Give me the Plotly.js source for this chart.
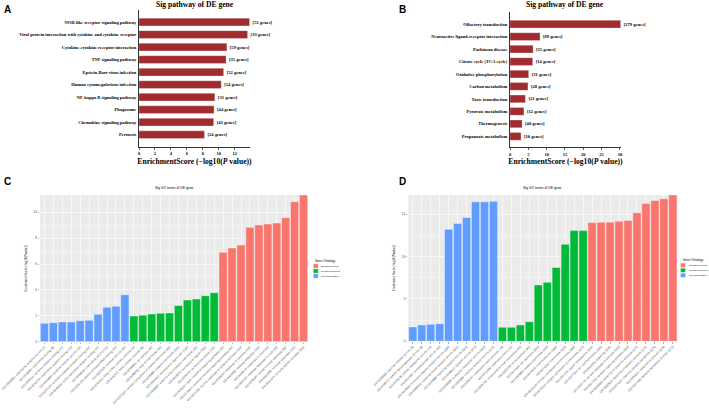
<!DOCTYPE html>
<html>
<head>
<meta charset="utf-8">
<script src="https://cdn.plot.ly/plotly-3.0.1.min.js"></script>
<style>html,body{margin:0;padding:0;background:#fff;}#chart{width:709px;height:412px;}</style>
</head>
<body>
<div id="chart"></div>
<script>
// ---------- Panel A: KEGG pathways ----------
const pathA = ["NOD-like receptor signaling pathway","Viral protein interaction with cytokine and cytokine receptor","Cytokine-cytokine receptor interaction","TNF signaling pathway","Epstein-Barr virus infection","Human cytomegalovirus infection","NF-kappa B signaling pathway","Phagosome","Chemokine signaling pathway","Pertussis"];
const scoreA = [13.85,13.6,11.0,10.9,10.6,10.3,9.5,9.4,9.35,8.2];
const genesA = [51,33,59,35,52,54,31,44,43,24];
const ticksA = [0,2,4,6,8,10,12];

// ---------- Panel B: KEGG pathways ----------
const pathB = ["Olfactory transduction","Neuroactive ligand-receptor interaction","Parkinson disease","Citrate cycle (TCA cycle)","Oxidative phosphorylation","Carbon metabolism","Taste transduction","Pyruvate metabolism","Thermogenesis","Propanoate metabolism"];
const scoreB = [30.2,8.2,6.3,6.2,5.1,4.9,4.2,3.8,3.3,3.0];
const genesB = [279,69,35,14,31,28,21,12,40,10];
const ticksB = [0,5,10,15,20,25,30];

// ---------- Panel C: GO terms ----------
const ontologies = ["Biological process","Cellular component","Molecular function"];
const ontologyColors = ["#F8766D","#00BA38","#619CFF"];
const goC_MF = ["GO:0004950~chemokine receptor activity (7)","GO:0019956~chemokine binding (8)","GO:0005126~cytokine receptor binding (21)","GO:0042379~chemokine receptor binding (12)","GO:0004896~cytokine receptor activity (14)","GO:0001664~G protein-coupled receptor binding (22)","GO:0048020~CCR chemokine receptor binding (11)","GO:0008009~chemokine activity (12)","GO:0003725~double-stranded RNA binding (16)","GO:0005125~cytokine activity (30)"];
const scoreC_MF = [1.42,1.47,1.52,1.52,1.62,1.65,2.12,2.66,2.73,3.63];
const goC_CC = ["GO:0042612~MHC class I protein complex (6)","GO:0042611~MHC protein complex (8)","GO:0009986~cell surface (45)","GO:0098552~side of membrane (40)","GO:0031226~intrinsic component of plasma membrane (90)","GO:0005886~plasma membrane (200)","GO:0044421~extracellular region part (120)","GO:0009897~external side of plasma membrane (30)","GO:0005576~extracellular region (150)","GO:0005615~extracellular space (110)"];
const scoreC_CC = [1.98,2.04,2.14,2.19,2.22,2.80,3.22,3.30,3.55,3.78];
const goC_BP = ["GO:0060337~type I interferon signaling pathway (35)","GO:0019221~cytokine-mediated signaling pathway (90)","GO:0071345~cellular response to cytokine stimulus (100)","GO:0034097~response to cytokine (110)","GO:0006952~defense response (130)","GO:0009615~response to virus (60)","GO:0051607~defense response to virus (50)","GO:0045087~innate immune response (90)","GO:0006955~immune response (120)","GO:0002376~immune system process (150)"];
const scoreC_BP = [6.90,7.24,7.47,8.83,9.01,9.09,9.17,9.58,10.81,11.33];
const ticksC = [0,2,4,6,8,10];

// ---------- Panel D: GO terms ----------
const goD_MF = ["GO:0009055~electron transfer activity (9)","GO:0008137~NADH dehydrogenase activity (8)","GO:0015078~proton transporter activity (12)","GO:0016491~oxidoreductase activity (40)","GO:0004930~G protein-coupled receptor activity (290)","GO:0099600~transmembrane receptor activity (300)","GO:0004888~signaling receptor activity (300)","GO:0038023~receptor activity (310)","GO:0060089~molecular transducer activity (320)","GO:0004984~olfactory receptor activity (270)"];
const scoreD_MF = [1.70,1.93,2.00,2.08,13.2,13.9,14.6,16.45,16.45,16.5];
const goD_CC = ["GO:0005747~respiratory chain complex I (8)","GO:0070469~respiratory chain (12)","GO:0005743~mitochondrial inner membrane (40)","GO:0005739~mitochondrion (90)","GO:0071944~cell periphery (350)","GO:0005886~plasma membrane (340)","GO:0044425~membrane part (380)","GO:0016020~membrane (420)","GO:0031224~intrinsic component of membrane (380)","GO:0016021~integral component of membrane (370)"];
const scoreD_CC = [1.65,1.65,1.93,2.30,6.65,6.95,8.70,11.45,13.05,13.05];
const goD_BP = ["GO:0007165~signal transduction (330)","GO:0007154~cell communication (340)","GO:0023052~signaling (335)","GO:0051716~cellular response to stimulus (340)","GO:0007166~receptor signaling pathway (300)","GO:0009593~detection of chemical stimulus (270)","GO:0050906~detection of sensory stimulus (270)","GO:0007606~chemical sensory perception (275)","GO:0050911~detection of odorant (265)","GO:0007608~sensory perception of smell (270)"];
const scoreD_BP = [14.0,14.05,14.05,14.15,14.25,15.15,16.25,16.6,16.8,17.25];
const ticksD = [0,5,10,15];

// ---------- helpers ----------
const W = 709, H = 412;
const px = x => x / W;
const py = y => 1 - y / H;
const serif = "Liberation Serif, Times New Roman, serif";
const sans = "Liberation Sans, Arial, sans-serif";
const barRed = "#A02C2F";

const pathTrace = (x, y, genes, xa, ya) => ({
  type: "bar", orientation: "h", x: x, y: y, xaxis: xa, yaxis: ya,
  width: 0.62,
  marker: {color: barRed, line: {color: "#ffffff", width: 0.3}},
  text: genes.map(g => "[" + g + " genes]"),
  textposition: "outside", cliponaxis: false, constraintext: "none",
  textfont: {family: serif, size: 4.6, color: "#000", weight: "bold"},
  showlegend: false, hoverinfo: "skip"
});

const goTrace = (labels, vals, color, xa, ya, name) => ({
  type: "bar", x: labels, y: vals, xaxis: xa, yaxis: ya, name: name,
  width: 0.92, marker: {color: color, line: {color: "#ffffff", width: 0.4}},
  showlegend: false, hoverinfo: "skip"
});

const catC = goC_MF.concat(goC_CC, goC_BP);
const catD = goD_MF.concat(goD_CC, goD_BP);

const data = [
  pathTrace(scoreA, pathA, genesA, "x", "y"),
  pathTrace(scoreB, pathB, genesB, "x2", "y2"),
  goTrace(goC_BP, scoreC_BP, ontologyColors[0], "x3", "y3", ontologies[0]),
  goTrace(goC_CC, scoreC_CC, ontologyColors[1], "x3", "y3", ontologies[1]),
  goTrace(goC_MF, scoreC_MF, ontologyColors[2], "x3", "y3", ontologies[2]),
  goTrace(goD_BP, scoreD_BP, ontologyColors[0], "x4", "y4", ontologies[0]),
  goTrace(goD_CC, scoreD_CC, ontologyColors[1], "x4", "y4", ontologies[1]),
  goTrace(goD_MF, scoreD_MF, ontologyColors[2], "x4", "y4", ontologies[2])
];

const pathXAxis = (dom, range, tv, anchor) => ({
  domain: dom, range: range, anchor: anchor, showline: true, linecolor: "#000", linewidth: 0.8,
  ticks: "outside", ticklen: 2, tickwidth: 0.6, tickcolor: "#000", tickmode: "array", tickvals: tv,
  tickfont: {family: serif, size: 4.5, color: "#000", weight: "bold"},
  showgrid: false, zeroline: false,
  title: {text: "EnrichmentScore (−log10(<i>P</i> value))", standoff: 3,
          font: {family: serif, size: 7.6, color: "#000", weight: "bold"}}
});
const pathYAxis = (dom, range, anchor) => ({
  domain: dom, type: "category", range: range, anchor: anchor,
  showline: true, linecolor: "#000", linewidth: 0.8, ticks: "", ticklabelstandoff: 1,
  tickfont: {family: serif, size: 4.5, color: "#000", weight: "bold"},
  showgrid: false, zeroline: false
});
const goXAxis = (dom, cats, anchor) => ({
  domain: dom, anchor: anchor, type: "category", categoryorder: "array", categoryarray: cats,
  range: [-0.5, cats.length - 0.5], tickmode: "array", tickvals: cats, ticktext: cats,
  tickangle: -45, tickfont: {family: sans, size: 3, color: "#4D4D4D"},
  ticks: "outside", ticklen: 1.5, tickwidth: 0.4, tickcolor: "#333",
  showgrid: true, gridcolor: "#ffffff", gridwidth: 0.6, showline: false, zeroline: false
});
const goYAxis = (dom, range, tv, anchor) => ({
  domain: dom, anchor: anchor, range: range, tickmode: "array", tickvals: tv,
  ticks: "outside", ticklen: 1.5, tickwidth: 0.4, tickcolor: "#333",
  tickfont: {family: sans, size: 3, color: "#4D4D4D"},
  showgrid: true, gridcolor: "#ffffff", gridwidth: 0.6, zeroline: false, showline: false,
  minor: {tickmode: "linear", tick0: tv[1] / 2, dtick: tv[1], showgrid: true, gridcolor: "#ffffff", gridwidth: 0.3, ticks: ""},
  title: {text: "Enrichment Score (-log10(Pvalue))", standoff: 6, font: {family: sans, size: 3, color: "#222"}}
});

const shapes = [
  {type: "rect", xref: "x3 domain", yref: "y3 domain", x0: 0, x1: 1, y0: 0, y1: 1, fillcolor: "#EBEBEB", line: {width: 0}, layer: "below"},
  {type: "rect", xref: "x4 domain", yref: "y4 domain", x0: 0, x1: 1, y0: 0, y1: 1, fillcolor: "#EBEBEB", line: {width: 0}, layer: "below"}
];
const annotations = [];
const letter = (t, x, y) => annotations.push({text: t, xref: "paper", yref: "paper", x: px(x), y: py(y), xanchor: "center", yanchor: "middle", showarrow: false, font: {family: sans, size: 10, color: "#000", weight: "bold"}});
letter("A", 7.5, 9.5); letter("B", 402, 9.5); letter("C", 7.5, 181); letter("D", 402, 181);
const title = (t, x, y, size, f, bold) => annotations.push({text: t, xref: "paper", yref: "paper", x: px(x), y: py(y), xanchor: "center", yanchor: "middle", showarrow: false, font: {family: f, size: size, color: "#000", weight: bold ? "bold" : "normal"}});
title("Sig pathway of DE gene", 195, 5, 7.6, serif, true);
title("Sig pathway of DE gene", 565, 5, 7.6, serif, true);
title("Sig GO terms of DE gene", 174, 188, 3.4, sans, false);
title("Sig GO terms of DE gene", 542, 188, 3.4, sans, false);

// legends for C and D (small ggplot-style key)
function addLegend(x0, yTitle, yFirst) {
  annotations.push({text: "Gene Ontology", xref: "paper", yref: "paper", x: px(x0), y: py(yTitle), xanchor: "left", yanchor: "middle", showarrow: false, font: {family: sans, size: 3, color: "#000"}});
  ontologies.forEach((o, i) => {
    const yc = yFirst + i * 5;
    shapes.push({type: "rect", xref: "paper", yref: "paper", x0: px(x0), x1: px(x0 + 5), y0: py(yc + 2.1), y1: py(yc - 2.1), fillcolor: ontologyColors[i], line: {color: "#ffffff", width: 0.3}});
    annotations.push({text: o, xref: "paper", yref: "paper", x: px(x0 + 6), y: py(yc), xanchor: "left", yanchor: "middle", showarrow: false, font: {family: sans, size: 2.2, color: "#000"}});
  });
}
addLegend(313.3, 260.7, 266);
addLegend(680.5, 260.2, 265.3);

const layout = {
  width: W, height: H, margin: {l: 0, r: 0, t: 0, b: 0},
  paper_bgcolor: "#ffffff", plot_bgcolor: "rgba(0,0,0,0)",
  barmode: "overlay", showlegend: false,
  xaxis: pathXAxis([px(139), px(250)], [0, 13.9], ticksA, "y"),
  yaxis: pathYAxis([py(147), py(10)], [9.98, -0.96], "x"),
  xaxis2: pathXAxis([px(510), px(621)], [0, 30.3], ticksB, "y2"),
  yaxis2: pathYAxis([py(147.3), py(11.7)], [9.88, -1.0], "x2"),
  xaxis3: goXAxis([px(40), px(308)], catC, "y3"),
  yaxis3: goYAxis([py(341.7), py(195)], [0, 11.33], ticksC, "x3"),
  xaxis4: goXAxis([px(408.3), px(677.3)], catD, "y4"),
  yaxis4: goYAxis([py(341.3), py(195)], [0, 17.25], ticksD, "x4"),
  shapes: shapes, annotations: annotations
};

Plotly.newPlot("chart", data, layout, {staticPlot: true, displayModeBar: false});
</script>
</body>
</html>
